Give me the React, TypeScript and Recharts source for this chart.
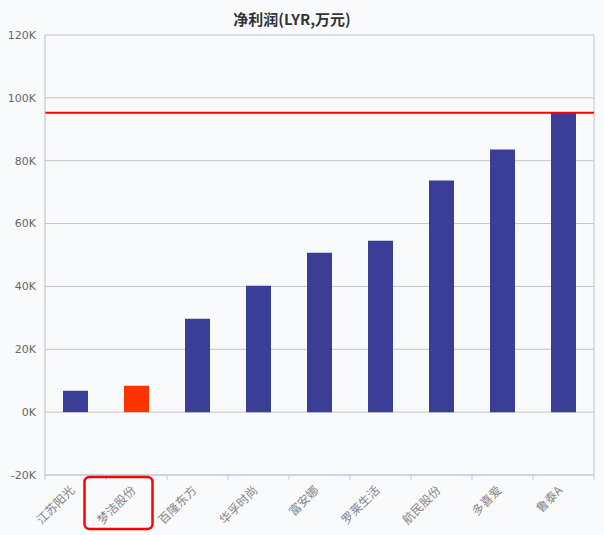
import React from 'react';
import { BarChart, Bar, XAxis, YAxis, CartesianGrid, ReferenceLine, Cell } from 'recharts';

const companies = ['江苏阳光', '梦洁股份', '百隆东方', '华孚时尚', '富安娜', '罗莱生活', '航民股份', '多喜爱', '鲁泰A'];
const netProfit = [6800, 8400, 29700, 40200, 50700, 54500, 73700, 83600, 95300];
const yTicks = [-20000, 0, 20000, 40000, 60000, 80000, 100000, 120000];
const highlight = '梦洁股份';

const W = 604;
const H = 535;
const LEFT = 45;
const RIGHT = 10;
const BAND = (W - LEFT - RIGHT) / companies.length;

const data = companies.map((name, i) => ({ name, value: netProfit[i] }));
const maxValue = Math.max(...netProfit);

const XTick = (props: any) => {
	const { x, y, payload, index } = props;
	const isLast = index === companies.length - 1;
	const tx = x;
	const ty = y + 16;
	return (
		<g>
			<line x1={x - BAND / 2} y1={y} x2={x - BAND / 2} y2={y + 5} stroke="#b3cce3" />
			{isLast && <line x1={x + BAND / 2} y1={y} x2={x + BAND / 2} y2={y + 5} stroke="#b3cce3" />}
			<text
				x={tx}
				y={ty}
				textAnchor="end"
				transform={`rotate(-45, ${tx}, ${ty})`}
				fontSize={12}
				fill="#858585"
				fontFamily='"Noto Sans CJK SC", sans-serif'
			>
				{payload.value}
			</text>
			{payload.value === highlight && (
				<rect x={x - 52} y={y + 2} width={68} height={52} rx={5} fill="none" stroke="#ff0000" strokeWidth={2.5} />
			)}
		</g>
	);
};

const App: React.FC = () => {
	return (
		<div style={{ position: 'absolute', left: 0, top: 0, width: W, height: H, background: '#f9fafc' }}>
			<div
				style={{
					position: 'absolute',
					left: 0,
					top: 8,
					width: 584,
					textAlign: 'center',
					fontFamily: '"Noto Sans CJK SC", sans-serif',
					fontWeight: 'bold',
					fontSize: 15,
					lineHeight: '22px',
					color: '#333',
				}}
			>
				净利润(LYR,万元)
			</div>
			<BarChart width={W} height={H} data={data} margin={{ top: 35, right: RIGHT, bottom: 0, left: 0 }}>
				<CartesianGrid
					stroke="#c4c4c4"
					verticalCoordinatesGenerator={({ offset }: any) => [offset.left + offset.width]}
				/>
				<XAxis
					dataKey="name"
					height={60}
					tickLine={false}
					tickSize={0}
					tickMargin={0}
					axisLine={{ stroke: '#b3cce3' }}
					tick={<XTick />}
					interval={0}
				/>
				<YAxis
					width={LEFT}
					domain={[-20000, 120000]}
					ticks={yTicks}
					tickFormatter={(v: number) => `${v / 1000}K`}
					tickLine={false}
					tickSize={0}
					tickMargin={9}
					axisLine={{ stroke: '#bcbcbc' }}
					tick={{ fontSize: 11, fill: '#666', fontFamily: '"DejaVu Sans", sans-serif' }}
				/>
				<Bar dataKey="value" barSize={25} isAnimationActive={false}>
					{data.map((d) => (
						<Cell key={d.name} fill={d.name === highlight ? '#ff3300' : '#3a3e96'} />
					))}
				</Bar>
				<ReferenceLine y={maxValue} stroke="#ff0000" strokeWidth={2} />
			</BarChart>
		</div>
	);
};

export default App;
